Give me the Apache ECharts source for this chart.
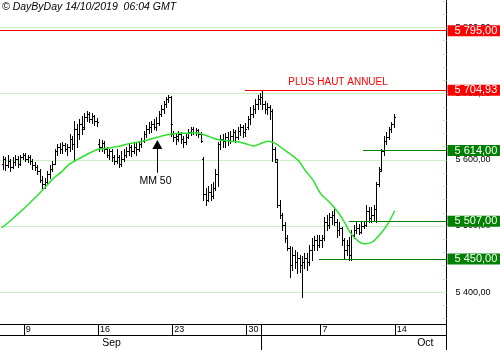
<!DOCTYPE html>
<html><head><meta charset="utf-8">
<script src="https://cdn.jsdelivr.net/npm/echarts@6/dist/echarts.min.js"></script>
<style>html,body{margin:0;padding:0;background:#fff}#c{width:500px;height:350px}</style>
</head><body><div id="c"></div>
<script>
// ---- data (time unit: trading days, 0 = Monday 9 Sep 2019) ----
const BARS_PER_DAY = 6;
const FIRST_BAR_TIME = -1.5;
// each bar: [open, close, low, high]
const bars = [
 [5593,5601,5586,5605],[5601,5592,5584,5604],[5592,5598,5589,5607],
 [5598,5589,5583,5601],[5589,5596,5587,5604],[5596,5601,5592,5607],[5601,5593,5589,5605],[5593,5604,5592,5608],[5604,5608,5601,5611],
 [5608,5601,5598,5611],[5601,5604,5596,5608],[5604,5598,5593,5607],[5598,5592,5586,5601],[5592,5589,5584,5596],[5589,5583,5578,5592],
 [5583,5570,5567,5586],[5570,5563,5558,5575],[5563,5567,5558,5572],[5567,5578,5564,5583],[5578,5586,5573,5592],[5586,5593,5583,5598],
 [5593,5613,5593,5616],[5613,5619,5608,5624],[5619,5616,5611,5625],[5616,5622,5610,5627],[5622,5617,5613,5625],[5617,5620,5608,5624],
 [5620,5631,5613,5639],[5631,5624,5616,5636],[5624,5646,5598,5658],[5646,5639,5620,5654],[5639,5654,5631,5662],[5654,5646,5639,5666],
 [5649,5665,5646,5671],[5665,5669,5658,5674],[5669,5662,5657,5672],[5662,5666,5655,5671],[5666,5658,5652,5668],[5658,5657,5651,5663],
 [5624,5619,5613,5631],[5619,5625,5614,5630],[5625,5616,5611,5628],[5616,5608,5604,5620],[5608,5613,5601,5617],[5613,5604,5598,5616],
 [5604,5598,5593,5608],[5598,5604,5595,5616],[5604,5593,5589,5608],[5593,5601,5590,5613],[5601,5608,5598,5616],[5608,5613,5604,5620],
 [5613,5619,5607,5624],[5619,5613,5605,5622],[5613,5620,5610,5627],[5620,5616,5608,5625],[5616,5624,5613,5628],[5624,5628,5619,5633],
 [5628,5639,5627,5643],[5639,5646,5634,5652],[5646,5649,5640,5657],[5649,5654,5642,5659],[5654,5649,5646,5662],[5649,5655,5645,5665],
 [5655,5669,5652,5674],[5669,5677,5666,5683],[5677,5684,5671,5689],[5684,5692,5680,5695],[5692,5695,5687,5698],[5695,5654,5636,5697],
 [5639,5634,5628,5643],[5634,5631,5624,5640],[5636,5639,5628,5643],[5639,5631,5625,5642],[5631,5627,5620,5636],[5627,5634,5624,5639],
 [5634,5642,5633,5646],[5642,5646,5637,5649],[5646,5642,5639,5649],[5642,5645,5637,5648],[5645,5639,5634,5646],[5639,5628,5627,5642],
 [5601,5548,5540,5604],[5548,5540,5532,5558],[5540,5552,5537,5561],[5552,5546,5540,5563],[5546,5558,5543,5566],[5558,5578,5555,5586],
 [5578,5624,5560,5627],[5624,5631,5616,5637],[5631,5628,5619,5639],[5628,5634,5620,5640],[5634,5630,5622,5642],[5630,5636,5625,5643],
 [5636,5642,5628,5646],[5642,5634,5627,5645],[5634,5643,5631,5649],[5643,5649,5637,5654],[5649,5642,5634,5652],[5642,5646,5636,5655],
 [5649,5662,5646,5666],[5662,5669,5654,5680],[5669,5677,5665,5683],[5677,5684,5671,5692],[5684,5692,5677,5698],[5692,5695,5684,5701],
 [5695,5684,5677,5704.93],[5684,5677,5671,5689],[5677,5680,5669,5686],[5680,5674,5662,5683],[5674,5616,5598,5677],[5616,5601,5596,5619],
 [5596,5532,5528,5601],[5532,5517,5512,5540],[5517,5502,5494,5520],[5502,5482,5476,5506],[5482,5467,5464,5487],[5467,5441,5423,5470],
 [5441,5456,5433,5468],[5456,5446,5436,5464],[5446,5452,5429,5461],[5452,5441,5430,5456],[5441,5446,5392,5455],[5446,5452,5436,5459],
 [5452,5446,5433,5459],[5446,5464,5441,5471],[5464,5471,5449,5482],[5471,5479,5464,5485],[5479,5471,5464,5487],[5471,5479,5468,5487],
 [5479,5482,5468,5487],[5482,5506,5479,5513],[5506,5502,5494,5517],[5502,5513,5497,5519],[5513,5517,5503,5522],[5517,5506,5502,5525],
 [5506,5494,5484,5510],[5494,5497,5487,5506],[5497,5479,5471,5499],[5479,5464,5452,5482],[5464,5471,5456,5479],[5471,5456,5449,5484],
 [5456,5487,5449,5494],[5487,5494,5482,5502],[5494,5497,5490,5506],[5497,5491,5488,5503],[5491,5500,5490,5506],[5500,5502,5497,5506],
 [5502,5522,5500,5532],[5522,5512,5506,5529],[5512,5517,5506,5528],[5517,5525,5509,5532],[5525,5563,5506,5566],[5563,5583,5560,5589],
 [5586,5613,5583,5616],[5613,5628,5608,5636],[5628,5634,5624,5642],[5634,5646,5631,5649],[5646,5654,5642,5657],[5654,5665,5649,5669]
];
// 50-period moving average, read every half trading day from MA_START
const MA_START = -1.5, MA_STEP = 0.5;
const ma50 = [5497,5506,5516,5526,5537,5548,5560,5572,5581,5592,5599,5605,5611,5616,5617,5619,5621,5624,5626,5628,5631,5634,5637,5639,5640,5640,5641,5639,5635,5631,5629,5628,5627,5624,5621,5625,5628,5624,5616,5608,5599,5583,5569,5549,5538,5526,5510,5490,5478,5473,5476,5487,5502,5523];
const weekTickValues = [0,5,10,15,20,25];
const weekLabels = ['9','16','23','30','7','14'];
const monthLabels = ['Sep','Oct'];
const monthLabelTimes = [5.91, 27.06];
const monthBoundaries = [16];
const priceTicks = [5400,5500,5600,5700,5800];
const levelValues = [5795, 5704.93, 5614, 5507, 5450];
const levelStarts = [-5, 14.91, 22.86, 21.92, 19.89];
const levelColors = ['#ff0000','#ff0000','#008000','#008000','#008000'];

// ---- layout ----
const XMIN = -5, XMAX = 28.487;
const GL = -50.39, GR = 53.5;
const FONT = 'Liberation Sans, Arial, sans-serif';
const GREEN_GRID = '#c8f0c2';

function fmtPrice(v){
  const s = v.toFixed(2).split('.');
  return s[0].replace(/\B(?=(\d{3})+(?!\d))/g,' ') + ',' + s[1];
}

function renderBar(params, api){
  const t = api.value(0);
  const o = api.coord([t, api.value(1)]);
  const c = api.coord([t, api.value(2)]);
  const l = api.coord([t, api.value(3)]);
  const h = api.coord([t, api.value(4)]);
  const x = Math.round(l[0]) + 0.5;
  const yo = Math.round(o[1]) + 0.5, yc = Math.round(c[1]) + 0.5;
  const st = {stroke:'#000', lineWidth:1};
  return {type:'group', children:[
    {type:'line', shape:{x1:x, y1:Math.round(h[1]), x2:x, y2:Math.round(l[1])+1}, style:st},
    {type:'line', shape:{x1:x-1.5, y1:yo, x2:x-0.5, y2:yo}, style:st},
    {type:'line', shape:{x1:x+0.5, y1:yc, x2:x+1.5, y2:yc}, style:st}
  ]};
}

const hiddenY = (g) => ({gridIndex:g, type:'value', show:false, min:0, max:1});
const hiddenX = (g) => ({gridIndex:g, type:'value', show:false, min:XMIN, max:XMAX});

const levelLines = levelValues.map((v,k) => [
  {coord:[levelStarts[k], v], lineStyle:{color:levelColors[k], width:1, type:'solid'},
   label:{show:true, position:'end', distance:1, formatter:fmtPrice(v), color:'#fff',
          backgroundColor:levelColors[k], padding:[1,3,0,7], fontSize:11, lineHeight:10, fontFamily:FONT}},
  {coord:[XMAX, v]}
]);
const arrowLine = [
  {coord:[9.0, 5580.5], lineStyle:{color:'#000', width:1, type:'solid'}, label:{show:false}},
  {coord:[9.0, 5623.1], symbol:'triangle', symbolSize:[10,9]}
];

const chart = echarts.init(document.getElementById('c'), null, {renderer:'canvas'});
chart.setOption({
  animation:false,
  backgroundColor:'#fff',
  textStyle:{fontFamily:FONT},
  title:{text:'© DayByDay 14/10/2019  06:04 GMT', left:2, top:2, padding:0,
         textStyle:{fontSize:10.5, fontStyle:'italic', fontWeight:'normal', color:'#000', fontFamily:FONT}},
  grid:[
    {left:GL, right:GR, top:-38.77, height:397.14, containLabel:false, outerBoundsMode:'none'},
    {left:GL, right:GR, top:-12.29, height:330.95, containLabel:false, outerBoundsMode:'none'},
    {left:GL, right:GR, top:0, height:324.5, containLabel:false, outerBoundsMode:'none'},
    {left:GL, right:GR, top:0, height:335.5, containLabel:false, outerBoundsMode:'none'},
    {left:GL, right:GR, top:0, height:324.5, containLabel:false, outerBoundsMode:'none'}
  ],
  xAxis:[
    hiddenX(0),
    hiddenX(1),
    {gridIndex:2, type:'value', min:XMIN, max:XMAX, interval:5, position:'bottom',
     axisLine:{show:true, onZero:false, lineStyle:{color:'#000', width:1}},
     axisTick:{show:true, length:11, lineStyle:{color:'#000', width:1}},
     axisLabel:{show:true, margin:1, align:'left', padding:[0,0,0,2], fontSize:9, lineHeight:9, color:'#000', fontFamily:FONT,
       formatter:(v)=>{const k = weekTickValues.indexOf(v); return k>=0 ? weekLabels[k] : '';}},
     splitLine:{show:false}},
    {gridIndex:3, type:'value', min:XMIN, max:XMAX, position:'bottom',
     axisLine:{show:true, onZero:false, lineStyle:{color:'#000', width:1}},
     axisTick:{show:false}, axisLabel:{show:false}, splitLine:{show:false}},
    {gridIndex:4, type:'value', min:XMIN, max:XMAX, position:'bottom',
     axisLine:{show:false, onZero:false},
     axisTick:{show:true, customValues:monthBoundaries, length:26, lineStyle:{color:'#000', width:1}},
     axisLabel:{show:true, customValues:monthLabelTimes, margin:13, fontSize:10.5, color:'#000', fontFamily:FONT,
       formatter:(v)=>{const k = monthLabelTimes.findIndex(m=>Math.abs(m-v)<1e-6); return k>=0 ? monthLabels[k] : '';}},
     splitLine:{show:false}}
  ],
  yAxis:[
    {gridIndex:0, type:'value', position:'right', min:5300, max:5900, interval:100,
     axisLine:{show:true, onZero:false, lineStyle:{color:'#000', width:1}},
     axisTick:{show:false},
     axisLabel:{show:true, margin:9, fontSize:9, color:'#000', fontFamily:FONT,
       formatter:(v)=> priceTicks.indexOf(v)>=0 ? fmtPrice(v) : ''},
     splitLine:{show:true, lineStyle:{color:GREEN_GRID, width:1, type:'solid'}}},
    {gridIndex:1, type:'value', position:'right', min:5360, max:5860, interval:20,
     axisLine:{show:false, onZero:false},
     axisTick:{show:true, inside:true, length:4, lineStyle:{color:GREEN_GRID, width:1}},
     axisLabel:{show:false}, splitLine:{show:false}},
    hiddenY(2), hiddenY(3), hiddenY(4)
  ],
  series:[
    {type:'custom', xAxisIndex:0, yAxisIndex:0, renderItem:renderBar, z:3,
     encode:{x:0, y:[1,2,3,4]},
     data: bars.map((b,i)=>[FIRST_BAR_TIME + (i+0.5)/BARS_PER_DAY, b[0], b[1], b[2], b[3]])},
    {type:'line', xAxisIndex:0, yAxisIndex:0, z:4, smooth:0.3, symbol:'none', silent:true,
     lineStyle:{color:'#2de02d', width:1.5},
     data: ma50.map((v,j)=>[MA_START + j*MA_STEP, v]),
     markLine:{silent:true, symbol:['none','none'], animation:false, data: levelLines.concat([arrowLine])},
     markPoint:{silent:true, symbol:'rect', symbolSize:1, itemStyle:{color:'rgba(0,0,0,0)'},
       data:[
         {coord:[21.18, 5716.8], label:{show:true, position:'inside', formatter:'PLUS HAUT ANNUEL', color:'#ff0000', fontSize:10, fontFamily:FONT}},
         {coord:[8.876, 5568], label:{show:true, position:'inside', formatter:'MM 50', color:'#000', fontSize:10.5, fontFamily:FONT}}
       ]}}
  ]
});
</script></body></html>
